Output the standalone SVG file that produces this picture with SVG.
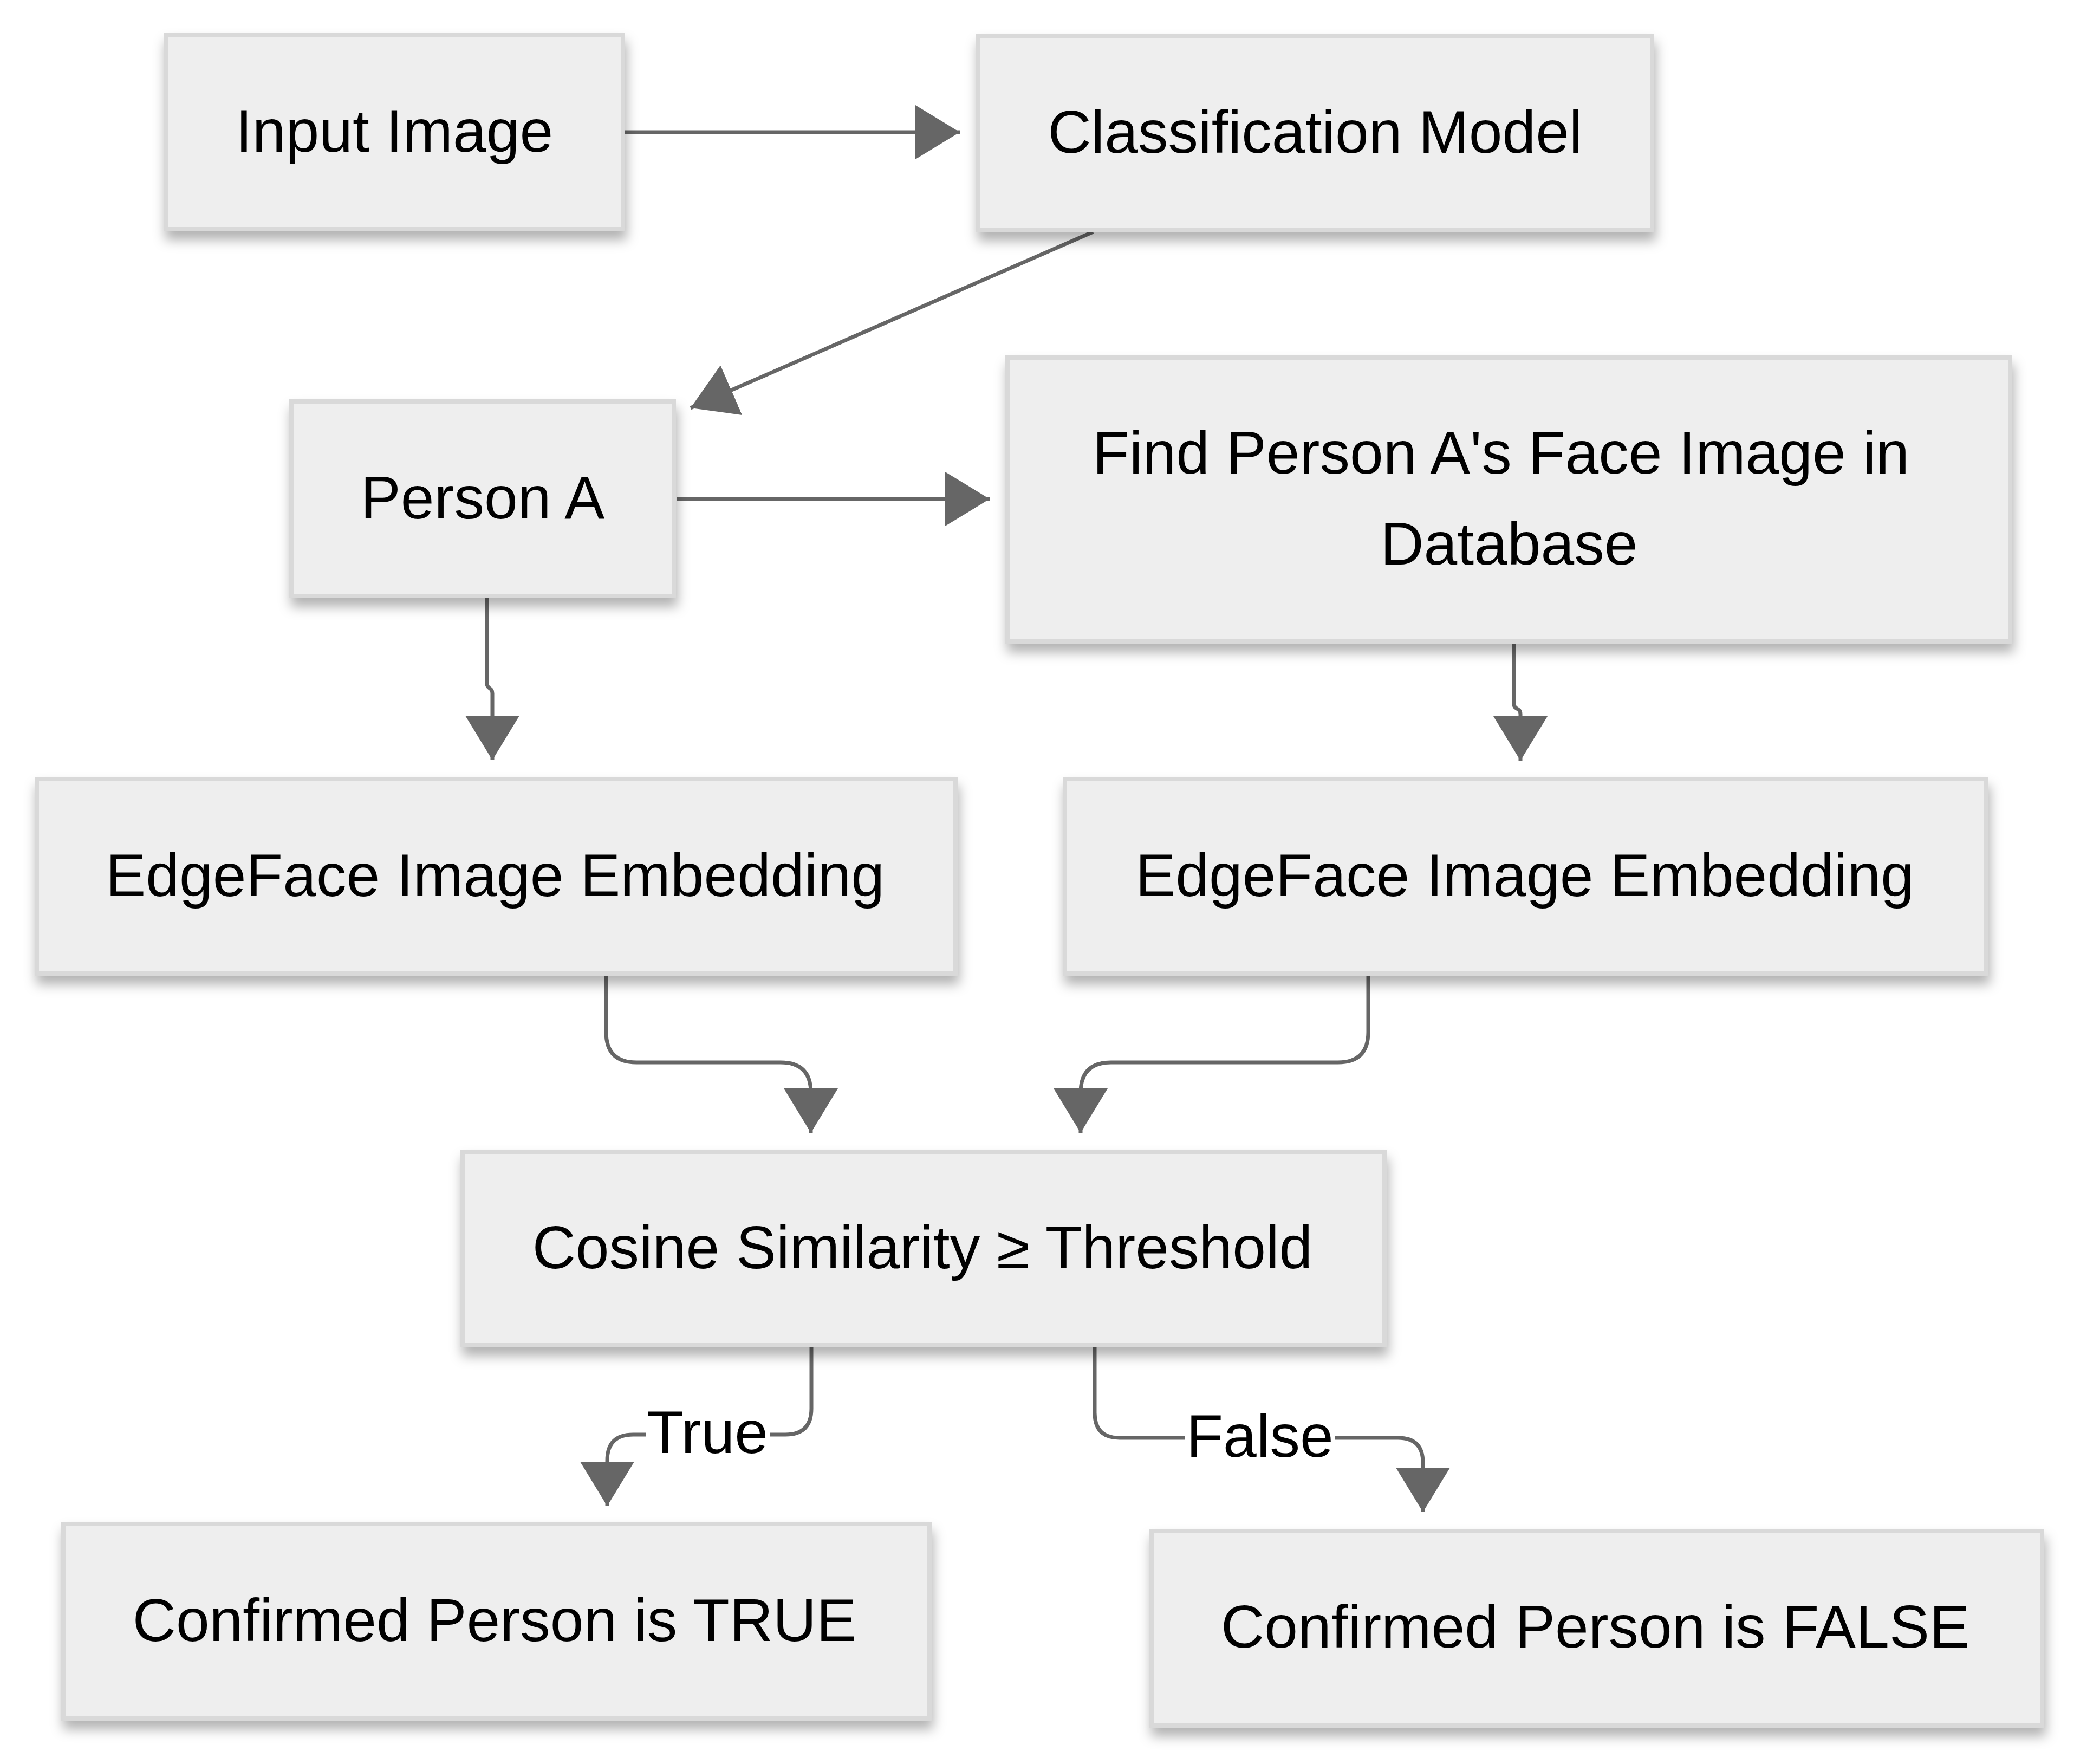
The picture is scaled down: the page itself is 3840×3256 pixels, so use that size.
<svg xmlns="http://www.w3.org/2000/svg" width="3840" height="3256" viewBox="0 0 3840 3256">
<defs>
<style>
.box{fill:#eeeeee;stroke:#d9d9d9;stroke-width:8;filter:url(#sh);}
.lbl{font-family:"Liberation Sans",Arial,Helvetica,sans-serif;font-size:111px;fill:#000000;text-anchor:middle;}
.edge{fill:none;stroke:#666666;stroke-width:7;marker-end:url(#arr);}
.lblbg{fill:#ffffff;}
</style>
<filter id="sh" x="-10%" y="-20%" width="120%" height="150%">
<feDropShadow dx="3" dy="16" stdDeviation="11" flood-color="#000000" flood-opacity="0.3"/>
</filter>
<marker id="arr" markerUnits="userSpaceOnUse" viewBox="0 0 82 100" markerWidth="82" markerHeight="100" refX="82" refY="50" orient="auto">
<path d="M0,0 L82,50 L0,100 Z" fill="#666666"/>
</marker>
</defs>
<rect width="3840" height="3256" fill="#ffffff"/>
<g id="connectors">
<path class="edge" d="M1154,244 L1772,244"/>
<path class="edge" d="M2018,428 L1275,753"/>
<path class="edge" d="M1249,921 L1827,921"/>
<path class="edge" d="M899,1102 L899,1262 C899,1272 909,1268 909,1280 L909,1403"/>
<path class="edge" d="M2795,1188 L2795,1300 C2795,1310 2807,1306 2807,1318 L2807,1404"/>
<path class="edge" d="M1119,1801 L1119,1905 Q1119,1961 1175,1961 L1441,1961 Q1497,1961 1497,2017 L1497,2091"/>
<path class="edge" d="M2526,1801 L2526,1905 Q2526,1961 2470,1961 L2051,1961 Q1995,1961 1995,2017 L1995,2091"/>
<path class="edge" d="M1498,2487 L1498,2600 Q1498,2648 1450,2648 L1169,2648 Q1121,2648 1121,2696 L1121,2780"/>
<path class="edge" d="M2021,2487 L2021,2608 Q2021,2654 2067,2654 L2581,2654 Q2627,2654 2627,2700 L2627,2791"/>
<g id="label-true">
<rect class="lblbg" x="1192" y="2592" width="230" height="116"/>
<text class="lbl" x="1306" y="2682">True</text>
</g>
<g id="label-false">
<rect class="lblbg" x="2188" y="2598" width="276" height="116"/>
<text class="lbl" x="2326" y="2689">False</text>
</g>
</g>
<g id="input-image">
<rect class="box" x="306" y="64" width="844" height="359"/>
<text class="lbl" x="728" y="280">Input Image</text>
</g>
<g id="classification-model">
<rect class="box" x="1806" y="66" width="1244" height="359"/>
<text class="lbl" x="2428" y="282">Classification Model</text>
</g>
<g id="person-a">
<rect class="box" x="538" y="741" width="706" height="359"/>
<text class="lbl" x="891" y="957">Person A</text>
</g>
<g id="find-face">
<rect class="box" x="1860" y="660" width="1851" height="524"/>
<text class="lbl" x="2771" y="874">Find Person A's Face Image in</text>
<text class="lbl" x="2786" y="1042">Database</text>
</g>
<g id="embedding-left">
<rect class="box" x="68" y="1438" width="1696" height="359"/>
<text class="lbl" x="914" y="1654">EdgeFace Image Embedding</text>
</g>
<g id="embedding-right">
<rect class="box" x="1966" y="1438" width="1701" height="359"/>
<text class="lbl" x="2815" y="1654">EdgeFace Image Embedding</text>
</g>
<g id="cosine">
<rect class="box" x="854" y="2126" width="1702" height="357"/>
<text class="lbl" x="1703" y="2341">Cosine Similarity ≥ Threshold</text>
</g>
<g id="confirmed-true">
<rect class="box" x="117" y="2813" width="1599" height="359"/>
<text class="lbl" x="913" y="3029">Confirmed Person is TRUE</text>
</g>
<g id="confirmed-false">
<rect class="box" x="2126" y="2826" width="1644" height="359"/>
<text class="lbl" x="2945" y="3041">Confirmed Person is FALSE</text>
</g>
</svg>
